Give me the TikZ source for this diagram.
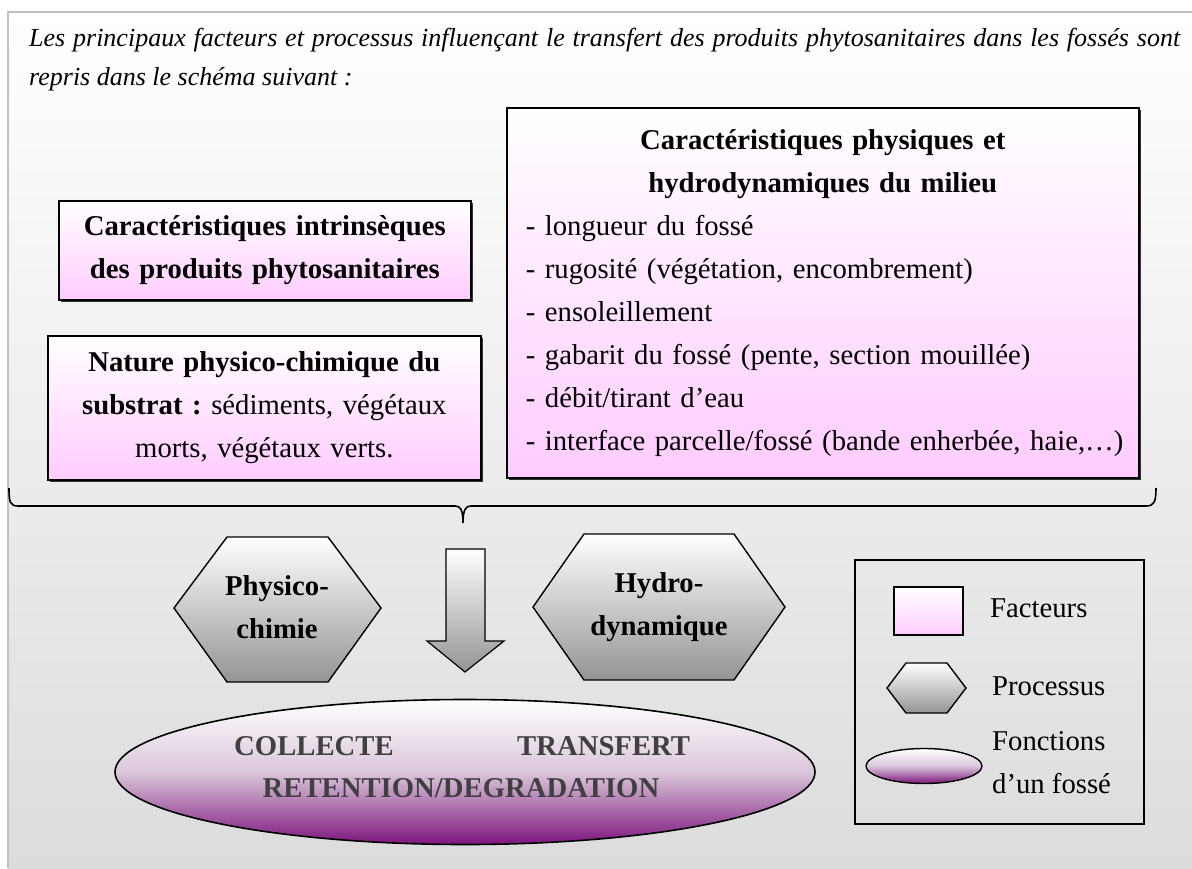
\documentclass[tikz,border=0pt]{standalone}
\usepackage{fontspec}
\setmainfont{Liberation Serif}
\frenchspacing
\usetikzlibrary{shadows,shapes.geometric}
\definecolor{pinkbox}{RGB}{255,204,255}
\definecolor{purplefn}{RGB}{125,22,125}
\definecolor{lilacfn}{RGB}{218,198,218}
\definecolor{framegray}{RGB}{192,192,192}
\definecolor{bggray}{RGB}{220,220,220}
\definecolor{textgray}{RGB}{64,64,64}
\newcommand\bodysize{\fontsize{28.7}{43}\selectfont}

\begin{document}
\begin{tikzpicture}[x=1pt, y=-1pt,
    factor/.style={draw=black, line width=1.6pt, top color=white, bottom color=pinkbox, inner sep=0pt, font=\bodysize},
    shadowed/.style={drop shadow={shadow xshift=2.5pt, shadow yshift=-2.5pt, fill=black!80, opacity=1}},
    process/.style={draw=black, line width=1.4pt, top color=white, bottom color=black!42},
    function/.style={draw=black, line width=1.6pt, ellipse, inner sep=0pt, top color=white, bottom color=purplefn, middle color=lilacfn},
    label/.style={font=\bodysize, inner sep=0pt},
    boldlabel/.style={font=\bodysize\bfseries, inner sep=0pt}]
    \useasboundingbox (0,0) rectangle (1192,868);

    \fill[top color=white, bottom color=bggray] (8,12) rectangle (1192,868);
    \draw[framegray, line width=2.5pt] (8,868) -- (8,12) -- (1192,12);

    \node[anchor=base west, inner sep=0pt, text width=1151pt, align=justify,
          font=\itshape\fontsize{26}{39}\selectfont] (intro) at (29,46)
        {Les principaux facteurs et processus influençant le transfert des produits phytosanitaires dans les fossés sont\linebreak repris dans le schéma suivant :};

    \node[factor, shadowed, anchor=north west, minimum width=412pt, minimum height=99pt,
          text width=412pt, align=center, font=\bodysize\bfseries] (intrins) at (58,200)
        {Caractéristiques intrinsèques\\des produits phytosanitaires};
    \node[factor, shadowed, anchor=north west, minimum width=433pt, minimum height=144pt,
          text width=433pt, align=center] (substrat) at (47,335)
        {\textbf{Nature physico-chimique du}\\\textbf{substrat :} sédiments, végétaux\\morts, végétaux verts.};
    \node[factor, shadowed, anchor=north west, minimum height=370pt,
          text width=632pt, align=left] (milieu) at (506,107)
        {{\centering\bfseries Caractéristiques physiques et\\hydrodynamiques du milieu\par}
         \leftskip=19pt
         - longueur du fossé\\
         - rugosité (végétation, encombrement)\\
         - ensoleillement\\
         - gabarit du fossé (pente, section mouillée)\\
         - débit/tirant d’eau\\
         - interface parcelle/fossé (bande enherbée, haie,…)\par};

    \draw[line width=1.6pt] (9,488) .. controls (9,502) and (10,506) .. (18,506)
        -- (455,506) .. controls (460,506) and (463,509) .. (463,523)
        .. controls (463,509) and (466,506) .. (471,506)
        -- (1146,506) .. controls (1154,506) and (1156,502) .. (1156,488);

    \draw[process] (174,608) -- (227,537) -- (328,537) -- (381,608) -- (328,682) -- (227,682) -- cycle;
    \node[boldlabel, text width=200pt, align=center, anchor=base] (physico) at (277,595) {Physico-\\chimie};
    \draw[process] (533,607) -- (584,534) -- (734,534) -- (785,607) -- (734,680) -- (584,680) -- cycle;
    \node[boldlabel, text width=240pt, align=center, anchor=base] (hydro) at (659,592) {Hydro-\\dynamique};
    \draw[process, line width=1.2pt] (446,549) -- (485,549) -- (485,641) -- (504,641) -- (465,672)
        -- (427,641) -- (446,641) -- cycle;

    \node[function, minimum width=700pt, minimum height=145pt] (fonctions) at (465,772) {};
    \node[boldlabel, text=textgray, anchor=base west] (collecte) at (234,755) {COLLECTE};
    \node[boldlabel, text=textgray, anchor=base west] (transfert) at (517,755) {TRANSFERT};
    \node[boldlabel, text=textgray, anchor=base] (retention) at (461,797) {RETENTION/DEGRADATION};

    \node[draw=black, line width=1.6pt, anchor=north west, minimum width=289pt, minimum height=264pt] (legende) at (854,559) {};
    \node[factor, minimum width=69pt, minimum height=48pt] (legfacteur) at (928.5,611) {};
    \node[label, anchor=base west] (facteurs) at (990,617) {Facteurs};
    \draw[process] (887,688) -- (906,663) -- (947,663) -- (966,688) -- (947,713) -- (906,713) -- cycle;
    \node[label, anchor=base west] (processus) at (992,695) {Processus};
    \node[function, line width=1.4pt, minimum width=116pt, minimum height=35pt] (legfonction) at (924,766) {};
    \node[label, anchor=base west] (fonctionsA) at (992,750) {Fonctions};
    \node[label, anchor=base west] (fonctionsB) at (992,793) {d’un fossé};
\end{tikzpicture}
\end{document}
